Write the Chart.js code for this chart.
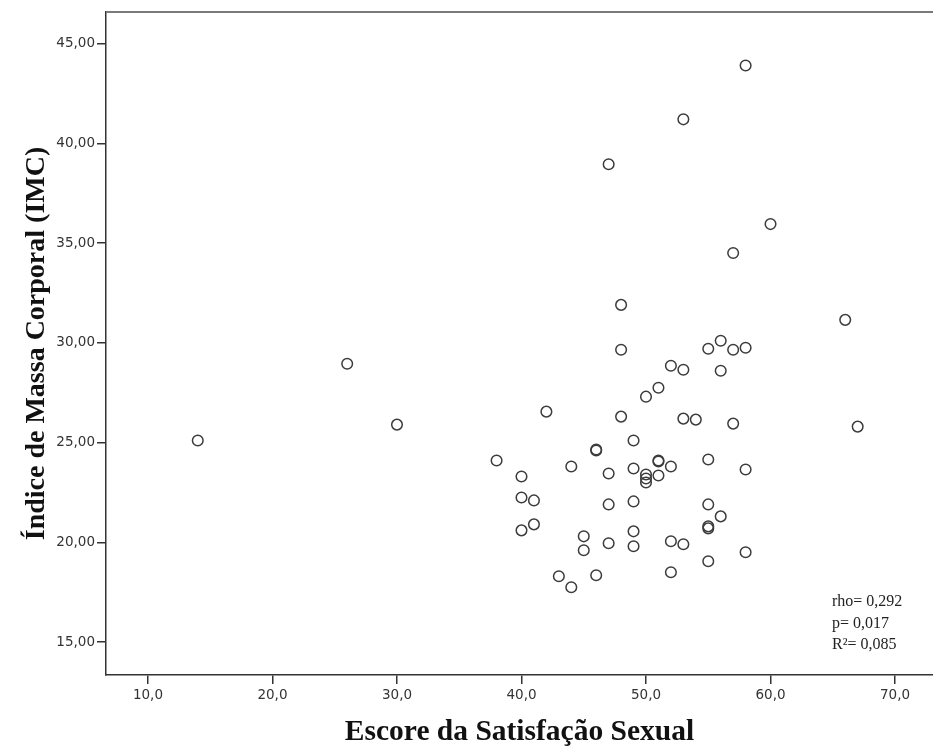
<!DOCTYPE html>
<html>
<head>
<meta charset="utf-8">
<script src="https://cdn.jsdelivr.net/npm/chart.js@4/dist/chart.umd.min.js"></script>
<style>
  html, body { margin: 0; padding: 0; background: #fff; overflow: hidden; }
  #wrap { width: 933px; height: 752px; position: relative; }
</style>
</head>
<body>
<div id="wrap"><canvas id="c" width="933" height="752"></canvas></div>
<script>
// Escore da Satisfação Sexual (x) vs Índice de Massa Corporal (y)
const satisfacao = [14, 26, 30, 38, 40, 40, 40, 41, 41, 42, 43, 44, 44, 45, 45, 46, 46, 46,
  47, 47, 47, 47, 48, 48, 48, 49, 49, 49, 49, 49, 50, 50, 50, 50, 51, 51, 51, 51,
  52, 52, 52, 52, 53, 53, 53, 53, 54, 55, 55, 55, 55, 55, 55, 56, 56, 56, 57, 57, 57,
  58, 58, 58, 58, 60, 66, 67];
const imc = [25.1, 28.95, 25.9, 24.1, 23.3, 22.25, 20.6, 22.1, 20.9, 26.55, 18.3, 23.8, 17.75, 20.3, 19.6, 24.6, 24.65, 18.35,
  38.95, 23.45, 21.9, 19.95, 31.9, 29.65, 26.3, 25.1, 23.7, 22.05, 20.55, 19.8, 27.3, 23.4, 23.2, 23.0, 27.75, 24.1, 24.05, 23.35,
  28.85, 23.8, 20.05, 18.5, 41.2, 28.65, 26.2, 19.9, 26.15, 29.7, 24.15, 21.9, 20.8, 20.7, 19.05, 30.1, 28.6, 21.3, 34.5, 29.65, 25.95,
  43.9, 29.75, 23.65, 19.5, 35.95, 31.15, 25.8];
const xTicks = [10, 20, 30, 40, 50, 60, 70];
const yTicks = [15, 20, 25, 30, 35, 40, 45];
const statLines = ["rho= 0,292", "p= 0,017", "R\u00B2= 0,085"];
const xTitle = "Escore da Satisfação Sexual";
const yTitle = "Índice de Massa Corporal (IMC)";

const points = satisfacao.map((v, i) => ({ x: v, y: imc[i] }));

const framePlugin = {
  id: 'frame',
  afterDraw(chart) {
    const { ctx, chartArea: a } = chart;
    ctx.save();
    ctx.strokeStyle = '#7a7a7a';
    ctx.lineWidth = 2;
    ctx.beginPath();
    ctx.moveTo(a.left, a.top);
    ctx.lineTo(a.right, a.top);
    ctx.stroke();
    // statistics annotation
    ctx.fillStyle = '#222';
    ctx.font = '16px "Liberation Serif", "Times New Roman", serif';
    ctx.textBaseline = 'middle';
    ctx.textAlign = 'left';
    const xs = chart.scales.x, ys = chart.scales.y;
    const lx = xs.getPixelForValue(64.94);
    const y0 = ys.getPixelForValue(17.0);
    statLines.forEach((t, i) => ctx.fillText(t, lx, y0 + i * 21.5));
    ctx.restore();
  }
};

new Chart(document.getElementById('c'), {
  type: 'scatter',
  data: {
    datasets: [{
      data: points,
      pointStyle: 'circle',
      pointRadius: 5.3,
      pointHoverRadius: 5.3,
      pointBorderWidth: 1.5,
      borderColor: '#3c3c3c',
      backgroundColor: 'rgba(0,0,0,0)'
    }]
  },
  options: {
    responsive: false,
    animation: false,
    devicePixelRatio: 1,
    layout: { autoPadding: false, padding: { top: 12, right: 0, left: 0, bottom: 0 } },
    plugins: { legend: { display: false }, tooltip: { enabled: false } },
    scales: {
      x: {
        type: 'linear',
        min: 6.63,
        max: 73.05,
        afterFit(s) { s.height = 77; s.paddingLeft = 0; s.paddingRight = 0; },
        afterBuildTicks(s) { s.ticks = xTicks.map(v => ({ value: v })); },
        grid: { drawOnChartArea: false, drawTicks: true, tickLength: 9, color: '#333', lineWidth: 1.5 },
        border: { display: true, color: '#333', width: 1.5 },
        ticks: {
          padding: 3,
          color: '#333',
          font: { family: '"DejaVu Sans", Tahoma, sans-serif', size: 13.5 },
          callback: v => v.toFixed(1).replace('.', ','),
          maxRotation: 0
        },
        title: {
          display: true,
          text: xTitle,
          color: '#111',
          font: { family: '"Liberation Serif", "Times New Roman", serif', size: 29.5, weight: 'bold', lineHeight: 1.2 },
          padding: { top: 0, bottom: 2 }
        }
      },
      y: {
        type: 'linear',
        min: 13.35,
        max: 46.58,
        afterFit(s) { s.width = 106; s.paddingTop = 0; s.paddingBottom = 0; },
        afterBuildTicks(s) { s.ticks = yTicks.map(v => ({ value: v })); },
        grid: { drawOnChartArea: false, drawTicks: true, tickLength: 9, color: '#333', lineWidth: 1.5 },
        border: { display: true, color: '#333', width: 1.5 },
        ticks: {
          padding: 2,
          color: '#333',
          font: { family: '"DejaVu Sans", Tahoma, sans-serif', size: 13.5 },
          callback: v => v.toFixed(2).replace('.', ',')
        },
        title: {
          display: true,
          text: yTitle,
          color: '#111',
          font: { family: '"Liberation Serif", "Times New Roman", serif', size: 28, weight: 'bold', lineHeight: 1.2 },
          padding: { top: 20, bottom: 0 }
        }
      }
    }
  },
  plugins: [framePlugin]
});
</script>
</body>
</html>
